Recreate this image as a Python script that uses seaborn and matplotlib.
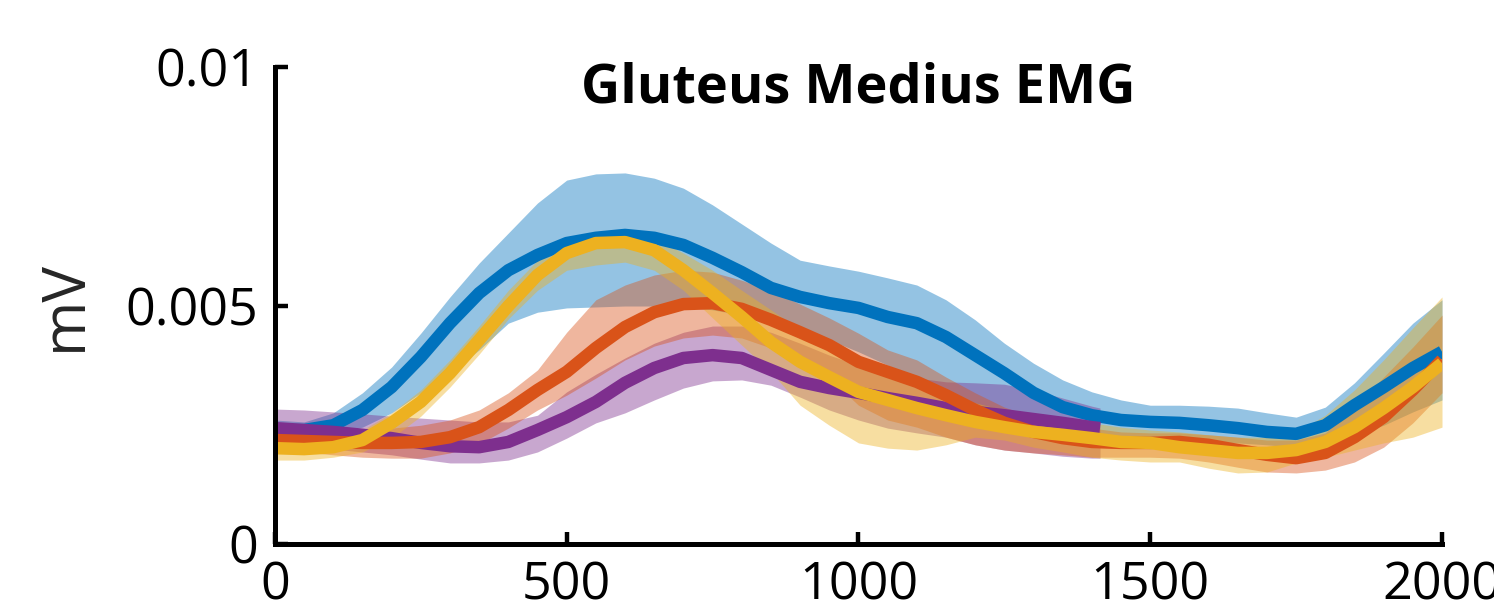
import numpy as np
import pandas as pd
import seaborn as sns
import matplotlib
matplotlib.use("Agg")
import matplotlib.pyplot as plt

# sample grid (time, samples); the purple recording is shorter
t = list(range(0, 2001, 50))
t_purple = list(range(0, 1401, 50)) + [1414]

# EMG envelopes, in units of 1e-3 mV
blue_mean = [2.39, 2.39, 2.49, 2.81, 3.29, 3.92, 4.63, 5.26, 5.74, 6.06, 6.31,
             6.42, 6.48, 6.42, 6.27, 6.00, 5.70, 5.37, 5.18, 5.05, 4.95,
             4.76, 4.63, 4.34, 3.96, 3.58, 3.17, 2.87, 2.70, 2.60, 2.56,
             2.54, 2.49, 2.43, 2.35, 2.31, 2.49, 2.91, 3.29, 3.69, 4.03]
blue_hi = [2.60, 2.56, 2.75, 3.17, 3.71, 4.42, 5.18, 5.89, 6.52, 7.15, 7.63,
           7.76, 7.78, 7.67, 7.46, 7.11, 6.71, 6.31, 5.95, 5.83, 5.72,
           5.58, 5.43, 5.12, 4.70, 4.21, 3.79, 3.44, 3.19, 3.02, 2.91,
           2.91, 2.89, 2.85, 2.75, 2.66, 2.87, 3.38, 4.00, 4.63, 5.12]
blue_lo = [2.24, 2.24, 2.33, 2.45, 2.75, 3.17, 3.58, 4.07, 4.63, 4.86, 4.95,
           4.97, 4.99, 4.99, 4.97, 4.91, 4.80, 4.65, 4.49, 4.28, 4.03,
           3.75, 3.44, 3.12, 2.85, 2.64, 2.49, 2.35, 2.26, 2.24, 2.18,
           2.16, 2.14, 2.12, 2.08, 2.03, 2.08, 2.29, 2.49, 2.77, 3.02]

orange_mean = [2.18, 2.16, 2.14, 2.12, 2.12, 2.14, 2.24, 2.45, 2.81, 3.23, 3.61,
               4.11, 4.55, 4.86, 5.03, 5.05, 4.93, 4.70, 4.44, 4.17, 3.82,
               3.61, 3.40, 3.12, 2.81, 2.54, 2.35, 2.22, 2.14, 2.12, 2.12,
               2.14, 2.08, 1.97, 1.87, 1.80, 1.91, 2.24, 2.66, 3.23, 3.86]
orange_hi = [2.39, 2.37, 2.39, 2.39, 2.43, 2.49, 2.60, 2.81, 3.17, 3.65, 4.44,
             5.12, 5.43, 5.64, 5.74, 5.70, 5.53, 5.32, 5.03, 4.74, 4.42,
             4.07, 3.86, 3.50, 3.17, 2.87, 2.66, 2.54, 2.43, 2.35, 2.33,
             2.33, 2.29, 2.24, 2.18, 2.18, 2.33, 2.87, 3.50, 4.13, 4.80]
orange_lo = [1.93, 1.93, 1.87, 1.82, 1.80, 1.80, 1.91, 2.10, 2.43, 2.81, 3.12,
             3.48, 3.86, 4.15, 4.32, 4.38, 4.32, 4.11, 3.82, 3.48, 2.91,
             2.60, 2.45, 2.24, 2.08, 1.97, 1.91, 1.87, 1.82, 1.82, 1.82,
             1.80, 1.72, 1.61, 1.51, 1.49, 1.55, 1.72, 2.03, 2.54, 3.17]

yellow_mean = [2.01, 1.99, 2.03, 2.18, 2.54, 2.98, 3.58, 4.28, 4.99, 5.64, 6.10,
               6.31, 6.33, 6.16, 5.74, 5.26, 4.76, 4.23, 3.82, 3.50, 3.19,
               3.02, 2.85, 2.70, 2.56, 2.45, 2.35, 2.29, 2.22, 2.14, 2.12,
               2.03, 1.97, 1.91, 1.91, 1.97, 2.14, 2.45, 2.85, 3.29, 3.79]
yellow_hi = [2.16, 2.16, 2.18, 2.39, 2.75, 3.23, 3.86, 4.57, 5.32, 5.95, 6.42,
             6.54, 6.54, 6.42, 6.10, 5.74, 5.32, 4.91, 4.49, 4.17, 3.82,
             3.54, 3.27, 3.12, 2.96, 2.81, 2.70, 2.60, 2.54, 2.45, 2.39,
             2.35, 2.29, 2.24, 2.24, 2.35, 2.70, 3.23, 3.86, 4.53, 5.18]
yellow_lo = [1.76, 1.76, 1.82, 1.93, 2.22, 2.68, 3.29, 3.98, 4.72, 5.32, 5.74,
             5.85, 5.91, 5.74, 5.32, 4.74, 4.17, 3.61, 2.91, 2.49, 2.12,
             2.01, 1.97, 2.08, 2.24, 2.18, 2.03, 1.93, 1.82, 1.76, 1.72,
             1.72, 1.59, 1.49, 1.51, 1.70, 1.82, 1.97, 2.12, 2.24, 2.45]

purple_mean = [2.43, 2.39, 2.35, 2.29, 2.22, 2.12, 2.05, 2.03, 2.14, 2.39, 2.66,
               2.98, 3.38, 3.69, 3.90, 3.96, 3.90, 3.65, 3.40, 3.27, 3.17,
               3.06, 2.96, 2.85, 2.77, 2.70, 2.62, 2.54, 2.45, 2.43]
purple_hi = [2.83, 2.81, 2.77, 2.73, 2.68, 2.64, 2.60, 2.56, 2.56, 2.70, 3.19,
             3.56, 3.90, 4.21, 4.44, 4.57, 4.57, 4.44, 4.21, 3.96, 3.75,
             3.61, 3.48, 3.40, 3.38, 3.35, 3.23, 3.06, 2.89, 2.85]
purple_lo = [2.08, 2.03, 1.99, 1.93, 1.87, 1.78, 1.70, 1.70, 1.76, 1.93, 2.22,
             2.54, 2.75, 3.02, 3.27, 3.42, 3.44, 3.33, 3.08, 2.81, 2.60,
             2.43, 2.33, 2.24, 2.08, 1.97, 1.91, 1.84, 1.80, 1.80]

colors = {"blue": "#0072BD", "orange": "#D95319", "yellow": "#EDB120", "purple": "#7E2F8E"}

series = [
    ("blue", t, blue_mean, blue_lo, blue_hi),
    ("purple", t_purple, purple_mean, purple_lo, purple_hi),
    ("orange", t, orange_mean, orange_lo, orange_hi),
    ("yellow", t, yellow_mean, yellow_lo, yellow_hi),
]

sns.set_style("ticks")
plt.rcParams["font.family"] = ["Open Sans", "DejaVu Sans"]

fig = plt.figure(figsize=(14.94, 6.04), dpi=100)
ax = fig.add_axes([0.184, 0.0993, 0.7812, 0.7897])

# each condition: shaded band, then its mean line on top
for name, x, m, lo, hi in series:
    ax.fill_between(x, np.array(lo) * 1e-3, np.array(hi) * 1e-3,
                    color=colors[name], alpha=0.42, lw=0)
    df = pd.DataFrame({"t": x, "mv": np.array(m) * 1e-3})
    sns.lineplot(data=df, x="t", y="mv", color=colors[name], linewidth=9,
                 ax=ax, legend=False, solid_joinstyle="round",
                 solid_capstyle="butt")

ax.set_xlim(0, 2000)
ax.set_ylim(0, 0.01)
ax.set_xticks([0, 500, 1000, 1500, 2000])
ax.set_xticklabels(["0", "500", "1000", "1500", "2000"])
ax.set_yticks([0, 0.005, 0.01])
ax.set_yticklabels(["0", "0.005", "0.01"])
ax.tick_params(direction="in", length=9, width=3.2, labelsize=37.5, pad=12,
               colors="black")
for s in ["top", "right"]:
    ax.spines[s].set_visible(False)
for s in ["left", "bottom"]:
    ax.spines[s].set_linewidth(3.6)
    ax.spines[s].set_color("black")

ax.set_xlabel("")
ax.set_ylabel("mV", fontsize=43, color="#262626", labelpad=22)
ax.text(0.5, 0.925, "Gluteus Medius EMG", transform=ax.transAxes,
        ha="center", va="baseline", fontsize=39, fontweight="bold",
        color="black")

fig.savefig("out.png", dpi=100)
